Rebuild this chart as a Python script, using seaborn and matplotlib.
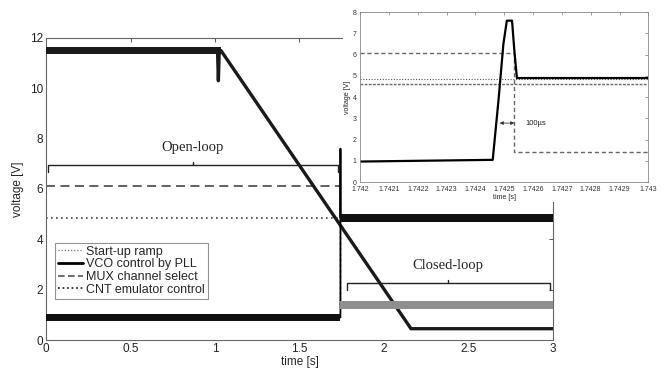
import numpy as np
import pandas as pd
import seaborn as sns
import matplotlib.pyplot as plt
from matplotlib.lines import Line2D
from matplotlib.patches import Rectangle

# valeurs (temps en s, tension en V)
ramp_t = [0.0, 1.015, 1.02, 1.025, 1.035, 2.16, 3.0]
ramp_v = [11.5, 11.5, 10.3, 11.5, 11.5, 0.45, 0.45]
ramp_band = 0.13

vco_t = [0.0, 1.7424, 1.7425, 1.74255, 3.0]
vco_v = [0.9, 0.9, 7.6, 4.85, 4.85]
vco_band = 0.15

mux_t = [0.0, 1.7425, 1.7425, 3.0]
mux_v = [6.1, 6.1, 1.4, 1.4]
mux_band = 0.15

cnt_t = [0.0, 3.0]
cnt_v = [4.85, 4.85]

# zoom autour de la commutation
z_vco_t = [1.742, 1.74246, 1.74248, 1.742497, 1.742509, 1.742527, 1.742535, 1.742544, 1.743]
z_vco_v = [0.97, 1.05, 3.85, 6.5, 7.6, 7.6, 6.2, 4.9, 4.9]
z_mux_t = [1.742, 1.742535, 1.742535, 1.743]
z_mux_v = [6.1, 6.1, 1.42, 1.42]
z_ramp_t = [1.742, 1.743]
z_ramp_v = [4.6, 4.6]
z_cnt_t = [1.742, 1.743]
z_cnt_v = [4.85, 4.85]

xticks = [0, 0.5, 1, 1.5, 2, 2.5, 3]
xticklabels = ['0', '0.5', '1', '1.5', '2', '2.5', '3']
yticks = [0, 2, 4, 6, 8, 10, 12]
z_xticks = [1.742 + 0.0001 * k for k in range(11)]
z_xticklabels = ['1.742', '1.7421', '1.7422', '1.7423', '1.7424', '1.7425',
                 '1.7426', '1.7427', '1.7428', '1.7429', '1.743']
z_yticks = list(range(9))

open_span = [0.01, 1.73]
closed_span = [1.78, 2.98]

sns.set_style('white')
plt.rcParams['font.family'] = ['Liberation Sans', 'DejaVu Sans']


def trace(ax, t, v, **kw):
    sns.lineplot(x=t, y=v, ax=ax, estimator=None, sort=False, **kw)


def band(ax, t0, t1, v, w, color):
    ax.fill_between([t0, t1], [v - w] * 2, [v + w] * 2, color=color, lw=0, zorder=3)


def bracket(ax, x0, x1, y, drop):
    xm = (x0 + x1) / 2
    ax.plot([x0, x0, x1, x1], [y - drop, y, y, y - drop], color='#222', lw=1)
    ax.plot([xm, xm], [y, y + 0.12], color='#222', lw=1)


fig = plt.figure(figsize=(6.67, 3.68), dpi=100)
ax = fig.add_axes([0.069, 0.076, 0.760, 0.821])

trace(ax, cnt_t, cnt_v, color='#444', lw=1.2, linestyle=(0, (1, 2)))
trace(ax, mux_t[:2], mux_v[:2], color='#555', lw=1.3, linestyle=(0, (5, 3)))
trace(ax, mux_t[1:3], mux_v[1:3], color='#555', lw=1.0, linestyle=(0, (2, 2)))
band(ax, mux_t[2], mux_t[3], mux_v[3], mux_band, '#8f8f8f')
trace(ax, ramp_t, ramp_v, color='#1a1a1a', lw=2.4)
band(ax, ramp_t[0], ramp_t[4], ramp_v[0], ramp_band, '#1a1a1a')
trace(ax, vco_t, vco_v, color='black', lw=1.3)
band(ax, vco_t[0], vco_t[1], vco_v[0], vco_band, '#111')
band(ax, vco_t[3], vco_t[4], vco_v[4], vco_band, '#111')

bracket(ax, open_span[0], open_span[1], 6.95, 0.28)
ax.text(sum(open_span) / 2, 7.4, 'Open-loop', ha='center', va='bottom',
        family='Liberation Serif', fontsize=10.5)
bracket(ax, closed_span[0], closed_span[1], 2.26, 0.26)
ax.text(sum(closed_span) / 2, 2.72, 'Closed-loop', ha='center', va='bottom',
        family='Liberation Serif', fontsize=10.5)

ax.set_xlim(0, 3)
ax.set_ylim(0, 12)
ax.set_xticks(xticks)
ax.set_xticklabels(xticklabels)
ax.set_yticks(yticks)
ax.tick_params(direction='in', top=True, right=True, length=3, width=0.7,
               color='#555', labelsize=8.5, labelcolor='#222', pad=2)
for s in ax.spines.values():
    s.set_color('#666')
    s.set_linewidth(0.8)
ax.set_xlabel('time [s]', fontsize=8.5, labelpad=1)
ax.set_ylabel('voltage [V]', fontsize=8.5, labelpad=4)

handles = [
    Line2D([], [], color='#777', lw=0.9, linestyle=(0, (1, 1.5))),
    Line2D([], [], color='black', lw=2.0),
    Line2D([], [], color='#555', lw=1.2, linestyle=(0, (4, 2))),
    Line2D([], [], color='#333', lw=1.3, linestyle=(0, (1, 1.5))),
]
labels = ['Start-up ramp', 'VCO control by PLL', 'MUX channel select', 'CNT emulator control']
leg = ax.legend(handles, labels, loc='upper left', bbox_to_anchor=(0.018, 0.322),
                fontsize=9, frameon=True, fancybox=False, borderpad=0.25,
                labelspacing=0.05, handlelength=2.0, handletextpad=0.2,
                borderaxespad=0)
leg.get_frame().set_edgecolor('#777')
leg.get_frame().set_linewidth(0.8)

# fond blanc derriere l'encart
fig.add_artist(Rectangle((0.514, 0.451), 0.486, 0.549, transform=fig.transFigure,
                         facecolor='white', edgecolor='none', zorder=1))

ax2 = fig.add_axes([0.540, 0.505, 0.432, 0.462])
ax2.set_zorder(2)
trace(ax2, z_cnt_t, z_cnt_v, color='#555', lw=0.8, linestyle=(0, (1, 1.5)))
trace(ax2, z_ramp_t, z_ramp_v, color='#666', lw=1.0, linestyle=(0, (2, 1)))
trace(ax2, z_mux_t, z_mux_v, color='#666', lw=1.0, linestyle=(0, (3, 2)))
trace(ax2, z_vco_t, z_vco_v, color='black', lw=1.6)
ax2.annotate('', xy=(1.742484, 2.78), xytext=(1.742535, 2.78),
             arrowprops=dict(arrowstyle='<|-|>', color='#333', lw=0.6,
                             mutation_scale=5, shrinkA=0, shrinkB=0))
ax2.text(1.742573, 2.78, '100µs', fontsize=5.5, va='center', ha='left', color='#222')

ax2.set_xlim(1.742, 1.743)
ax2.set_ylim(0, 8)
ax2.set_xticks(z_xticks)
ax2.set_xticklabels(z_xticklabels)
ax2.set_yticks(z_yticks)
ax2.tick_params(direction='in', top=True, right=True, length=2, width=0.5,
                color='#777', labelsize=5, labelcolor='#333')
ax2.tick_params(axis='x', pad=3)
ax2.tick_params(axis='y', pad=2.5)
for s in ax2.spines.values():
    s.set_color('#888')
    s.set_linewidth(0.6)
ax2.set_xlabel('time [s]', fontsize=5, labelpad=0.5)
ax2.set_ylabel('voltage [V]', fontsize=5, labelpad=1)

fig.savefig('out.png', dpi=100)
